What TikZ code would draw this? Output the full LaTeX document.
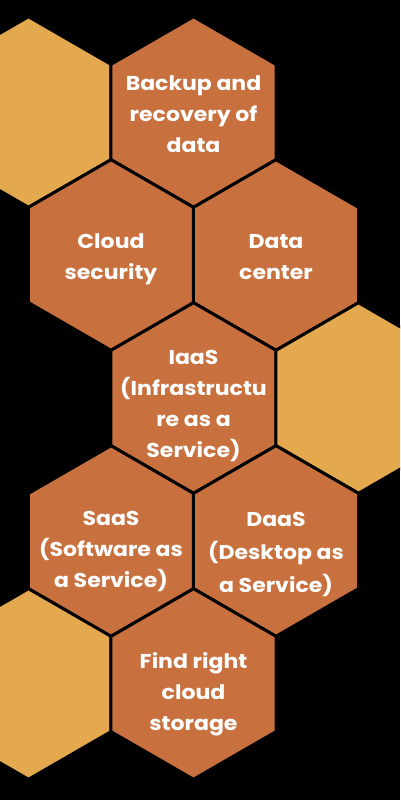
\documentclass[tikz,border=0pt]{standalone}
\usepackage{fontspec}
\setmainfont{Poppins}[BoldFont={* Bold}, FakeStretch=1.1]
\usetikzlibrary{shapes.geometric}
\definecolor{hexorange}{RGB}{200,113,63}
\definecolor{hexyellow}{RGB}{228,168,79}
\tikzset{
  hexa/.style={regular polygon, regular polygon sides=6, shape border rotate=30,
    minimum size=190.6pt, inner sep=0pt, outer sep=0pt, draw=black, line width=3pt},
  hexo/.style={hexa, fill=hexorange},
  hexy/.style={hexa, fill=hexyellow},
  lbl/.style={text=white, font=\fontsize{20}{31}\selectfont\bfseries, align=center, inner sep=0pt}
}
\begin{document}
\begin{tikzpicture}[x=1pt,y=-1pt]
\useasboundingbox (0,0) rectangle (400,800);
\fill[black] (0,0) rectangle (400,800);
\clip (0,0) rectangle (400,800);
\node[hexy] (y1) at (28.5,112) {};
\node[hexo] (h1) at (193.5,112) {};
\node[hexo] (h2) at (111,255) {};
\node[hexo] (h3) at (276,255) {};
\node[hexo] (h4) at (193.5,398) {};
\node[hexy] (y2) at (358.5,398) {};
\node[hexo] (h5) at (111,541) {};
\node[hexo] (h6) at (276,541) {};
\node[hexy] (y3) at (28.5,684) {};
\node[hexo] (h7) at (193.5,684) {};
\node[lbl] (t1) at ([yshift=-2pt]h1.center) {Backup and\\recovery of\\data};
\node[lbl] (t2) at ([yshift=-4.5pt]h2.center) {Cloud\\security};
\node[lbl] (t3) at ([yshift=-2pt]h3.center) {Data\\center};
\node[lbl] (t4) at ([yshift=-8pt]h4.center) {IaaS\\(Infrastructu\\re as a\\Service)};
\node[lbl] (t5) at ([yshift=-10pt]h5.center) {SaaS\\(Software as\\a Service)};
\node[lbl, font=\fontsize{20}{33}\selectfont\bfseries] (t6) at ([yshift=-13pt]h6.center) {DaaS\\(Desktop as\\a Service)};
\node[lbl] (t7) at ([yshift=-10pt]h7.center) {Find right\\cloud\\storage};
\end{tikzpicture}
\end{document}
